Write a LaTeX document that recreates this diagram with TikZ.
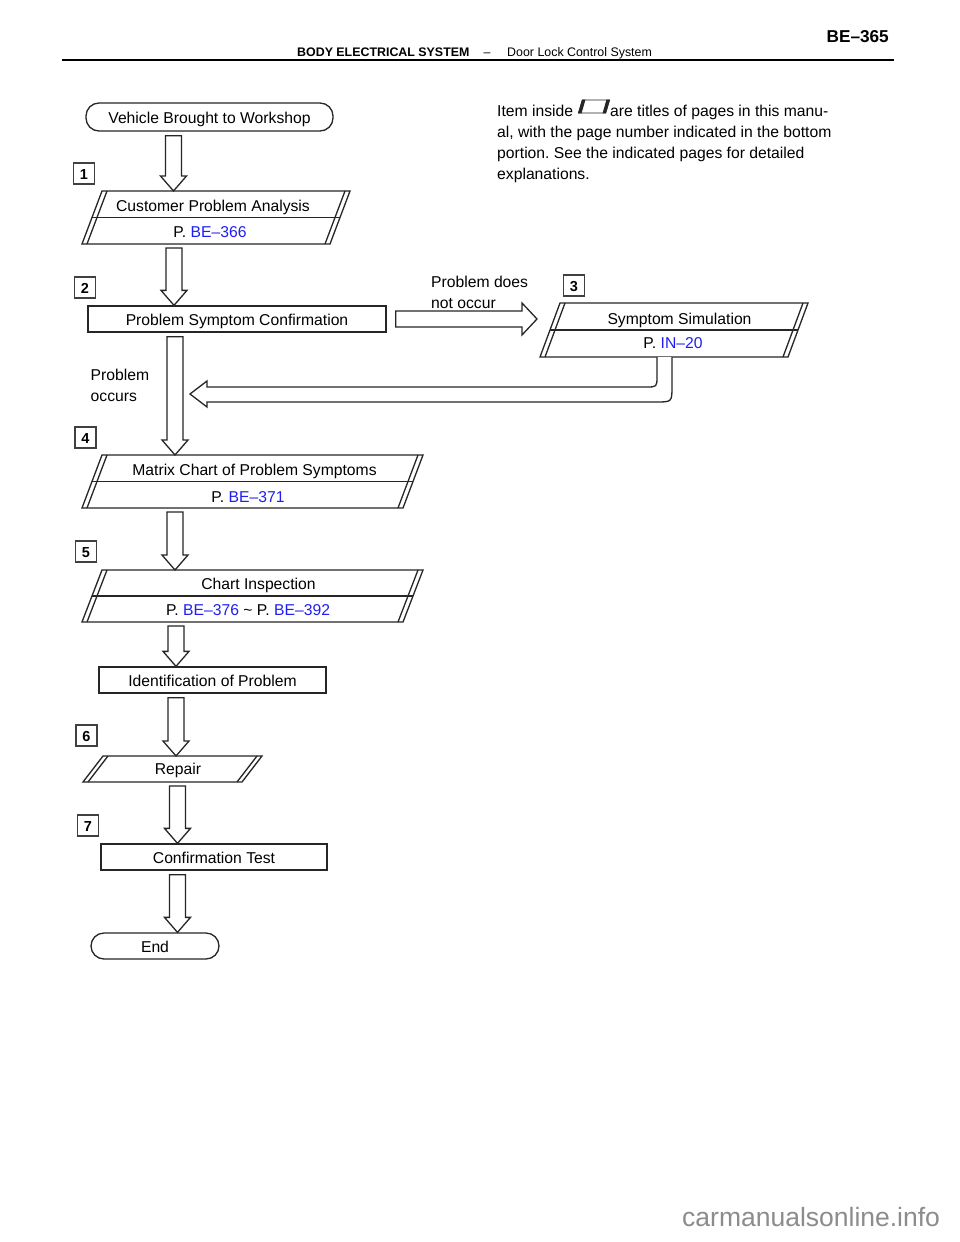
\documentclass[tikz,border=0pt]{standalone}
\usepackage{fontspec}
\setmainfont{Liberation Sans}
\usetikzlibrary{calc,fit}
\frenchspacing
\definecolor{refblue}{rgb}{0.12,0.12,0.95}
\newcommand\bodyfont{\fontsize{15.7}{21}\selectfont}
\newcommand\pgram[5]{% name, x bottom-left, x top-right, y top, y bottom
  \coordinate (#1-bl) at (#2,#5);
  \coordinate (#1-tl) at (#2+20,#4);
  \coordinate (#1-tr) at (#3,#4);
  \coordinate (#1-br) at (#3-20,#5);
  \draw[ln,fill=white] (#1-bl) -- (#1-tl) -- (#1-tr) -- (#1-br) -- cycle;
  \draw[ln] ($(#1-bl)+(5,0)$) -- ($(#1-tl)+(5,0)$);
  \draw[ln] ($(#1-br)+(-5,0)$) -- ($(#1-tr)+(-5,0)$);
  \node[inner sep=0,outer sep=0,fit=(#1-bl)(#1-tr)] (#1) {};
}
\newcommand\pgdiv[1]{\draw[ln] ($(#1-bl)!0.5!(#1-tl)$) -- ($(#1-br)!0.5!(#1-tr)$);}
\newcommand\dnarrow[3]{% from node, to node, x centre
  \draw[ln,fill=white] let \p1=(#1.south), \p2=(#2.north) in
   ({#3pt-8pt},{\y1-4pt}) -- ({#3pt+8pt},{\y1-4pt}) -- ({#3pt+8pt},{\y2+15pt})
   -- ({#3pt+13pt},{\y2+15pt}) -- ({#3pt},{\y2}) -- ({#3pt-13pt},{\y2+15pt})
   -- ({#3pt-8pt},{\y2+15pt}) -- cycle;}
\begin{document}
\begin{tikzpicture}[x=1pt,y=-1pt,
  ln/.style={draw=black!85,line width=1.3pt},
  txt/.style={anchor=base,inner sep=0,font=\bodyfont},
  txtw/.style={anchor=base west,inner sep=0,font=\bodyfont},
  boxr/.style={ln,fill=white,inner sep=0,text height=13.6pt,text depth=0pt,font=\bodyfont},
  stad/.style={boxr,rounded corners=13pt},
  numbox/.style={draw=black!75,line width=1.1pt,fill=white,minimum size=21pt,inner sep=0,
    font=\bfseries\fontsize{14.5}{16}\selectfont,text height=11pt,text depth=0pt}]
\useasboundingbox[fill=white] (0,0) rectangle (960,1242);

% header
\node[anchor=base east,inner sep=0,font=\bfseries\fontsize{17.2}{20}\selectfont] (pg) at (889,42.5) {BE–365};
\node[anchor=base west,inner sep=0,font=\bfseries\fontsize{12.4}{14}\selectfont] (hd1) at (297,56.5) {BODY ELECTRICAL SYSTEM};
\node[anchor=base,inner sep=0,font=\fontsize{12.4}{14}\selectfont] (hd2) at (487,56.5) {–};
\node[anchor=base west,inner sep=0,font=\fontsize{12.4}{14}\selectfont] (hd3) at (507,56.5) {Door Lock Control System};
\draw[line width=1.8pt] (62,60) -- (894,60);

% explanatory text
\node[txtw] (it1) at (497,116) {Item inside};
\node[txtw] (it2) at (610,116) {are titles of pages in this manu-};
\node[txtw] (it3) at (497,137) {al, with the page number indicated in the bottom};
\node[txtw] (it4) at (497,158) {portion. See the indicated pages for detailed};
\node[txtw] (it5) at (497,179) {explanations.};
\draw[black!85,line width=0.9pt] (578.5,113) -- (582.5,100) -- (609.5,100) -- (605.5,113) -- cycle;
\fill[black!85] (578,113.4) -- (582,99.6) -- (585.5,99.6) -- (581.5,113.4) -- cycle;
\fill[black!85] (602.5,113.4) -- (606.5,99.6) -- (610,99.6) -- (606,113.4) -- cycle;

% boxes
\node[stad,minimum width=247pt,minimum height=28pt] (vb) at (209.5,117) {Vehicle Brought to Workshop};
\pgram{cpa}{82}{350}{191}{244}\pgdiv{cpa}
\node[txt] (cpat) at (213,211.5) {Customer Problem Analysis};
\node[txt] (cpap) at (210,237.5) {P. \textcolor{refblue}{BE–366}};

\node[boxr,minimum width=298pt,minimum height=26pt] (psc) at (237,319) {Problem Symptom Confirmation};

\pgram{sym}{540}{808}{303}{357}\pgdiv{sym}
\node[txt] (symt) at (679.5,324.5) {Symptom Simulation};
\node[txt] (symp) at (673,348.5) {P. \textcolor{refblue}{IN–20}};

\pgram{mat}{82}{423}{455}{508}\pgdiv{mat}
\node[txt] (matt) at (254.5,475.5) {Matrix Chart of Problem Symptoms};
\node[txt] (matp) at (248,502) {P. \textcolor{refblue}{BE–371}};

\pgram{chi}{82}{423}{570}{622}\pgdiv{chi}
\node[txt] (chit) at (258.5,589.5) {Chart Inspection};
\node[txt] (chip) at (248,615.5) {P. \textcolor{refblue}{BE–376} \textasciitilde{} P. \textcolor{refblue}{BE–392}};

\node[boxr,minimum width=227pt,minimum height=26pt] (idp) at (212.5,680) {Identification of Problem};

\pgram{rep}{83}{262}{756}{782}
\node[txt] (rept) at (178,774.5) {Repair};

\node[boxr,minimum width=226pt,minimum height=26pt] (ct) at (214,857) {Confirmation Test};
\node[stad,minimum width=128pt,minimum height=26pt] (en) at (155,946) {End};

% step numbers
\node[numbox] (n1) at (84,173.5) {1};
\node[numbox] (n2) at (85,287.5) {2};
\node[numbox] (n3) at (574,285.5) {3};
\node[numbox] (n4) at (85.5,437.5) {4};
\node[numbox] (n5) at (86,551.5) {5};
\node[numbox] (n6) at (86.5,735.5) {6};
\node[numbox] (n7) at (88,825.5) {7};

% labels
\node[txtw] (nd1) at (431,287) {Problem does};
\node[txtw] (nd2) at (431,308) {not occur};
\node[txtw] (po1) at (90.5,380.5) {Problem};
\node[txtw] (po2) at (90.5,401) {occurs};

% block arrows
\dnarrow{vb}{cpa}{173.5}
\dnarrow{cpa}{psc}{174}
\dnarrow{psc}{mat}{175}
\dnarrow{mat}{chi}{175}
\dnarrow{chi}{idp}{176}
\dnarrow{idp}{rep}{176}
\dnarrow{rep}{ct}{177.5}
\dnarrow{ct}{en}{177.5}

\draw[ln,fill=white] let \p1=(psc.east), \p2=(sym.west) in
  ({\x1+9pt},{\y1+8pt}) -- ({\x2-18pt},{\y1+8pt}) -- ({\x2-18pt},{\y1+16pt})
  -- ({\x2-3pt},{\y1}) -- ({\x2-18pt},{\y1-16pt}) -- ({\x2-18pt},{\y1-8pt})
  -- ({\x1+9pt},{\y1-8pt}) -- cycle;

\coordinate (rtop1) at (657,357);
\coordinate (rtop2) at (672,357);
\draw[ln,fill=white] (rtop1) -- (657,376) .. controls (657,387) .. (646,387) -- (207,387)
  -- (207,381) -- (190,394) -- (207,407) -- (207,402) -- (656,402)
  .. controls (672,402) .. (672,386) -- (rtop2);

% watermark
\node[anchor=base west,inner sep=0,text=black!45,font=\fontsize{26.5}{30}\selectfont] (wm) at (682,1226) {carmanualsonline.info};
\end{tikzpicture}
\end{document}
